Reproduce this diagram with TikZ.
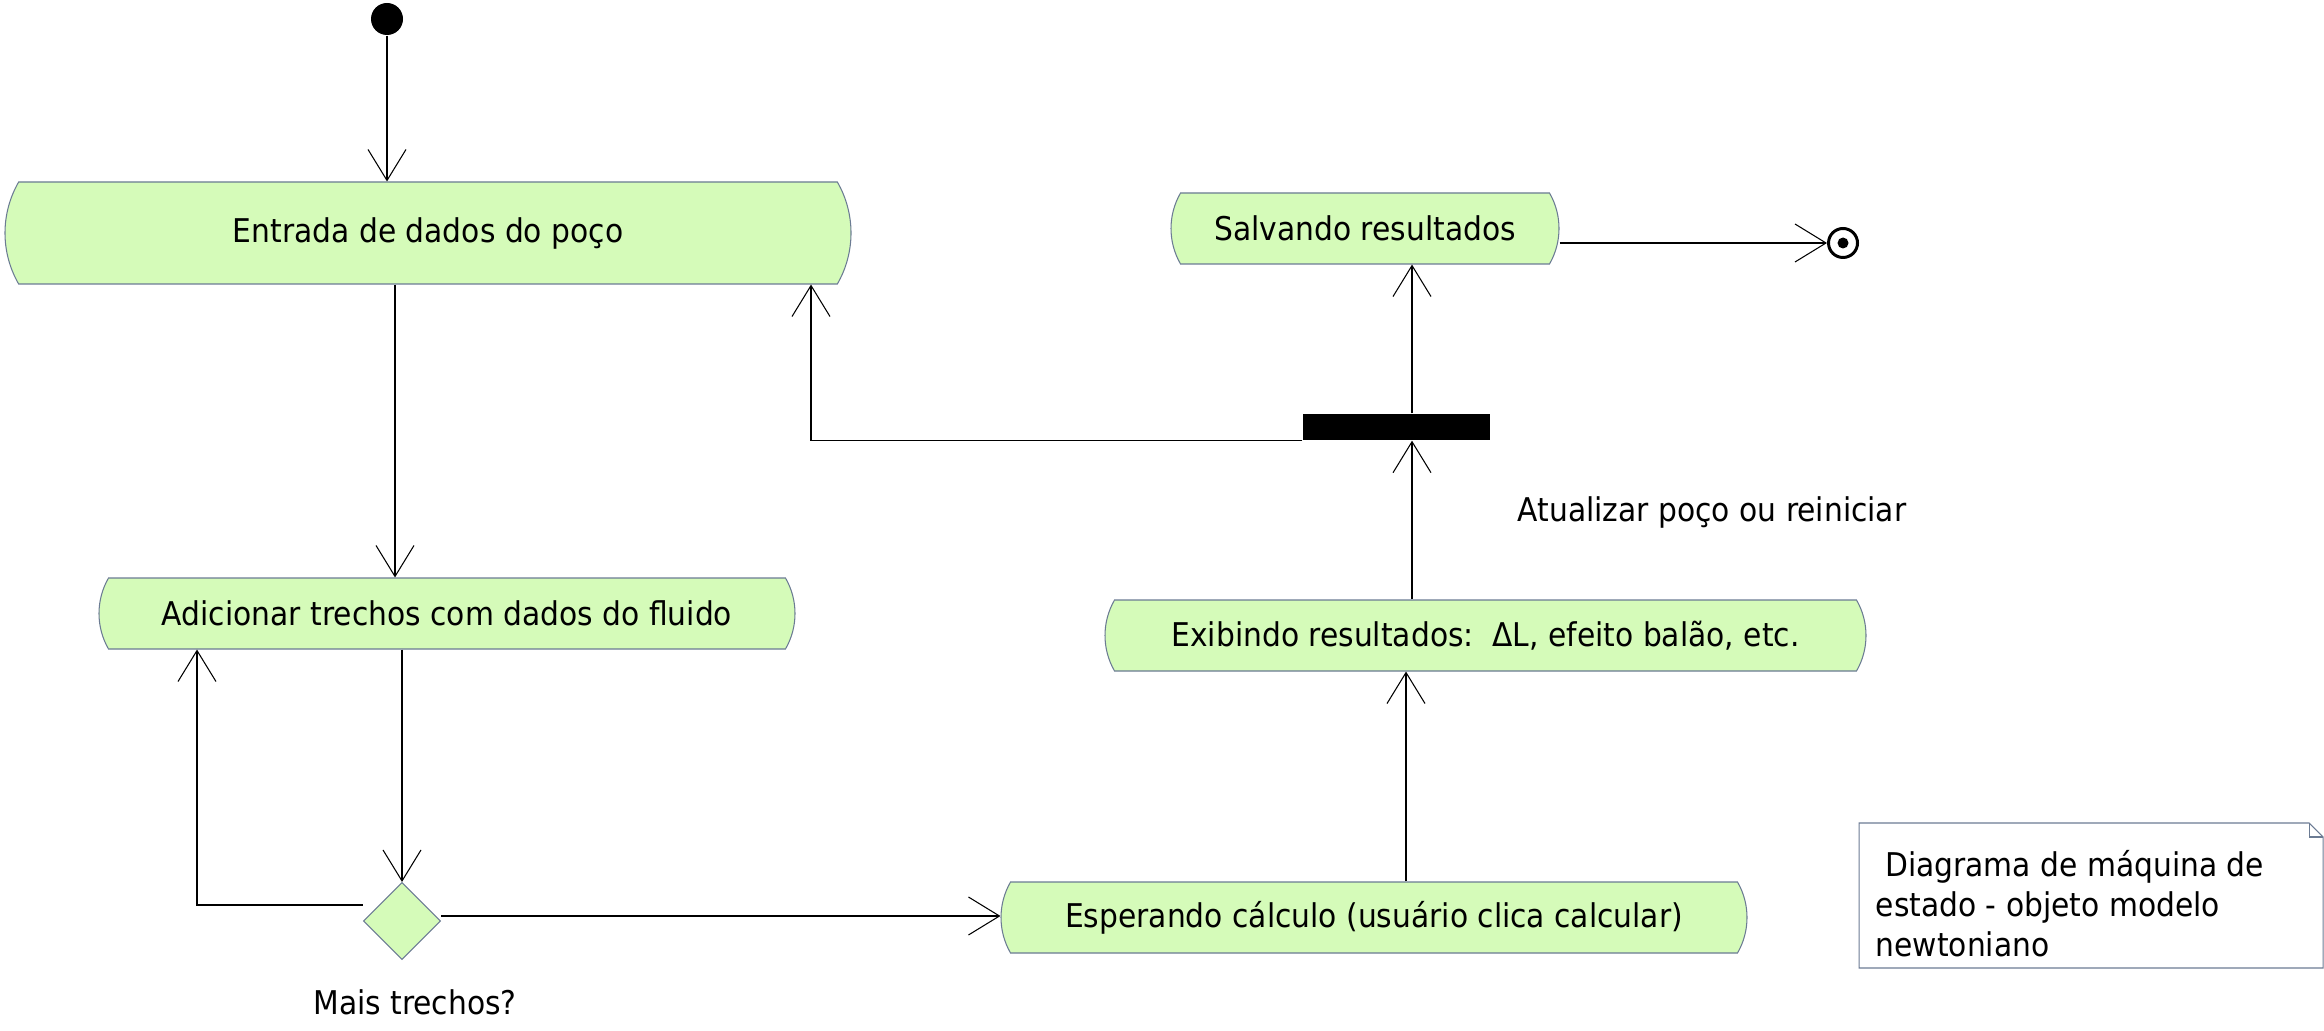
\documentclass[tikz,border=0pt]{standalone}
\usepackage{fontspec}
\setmainfont{DejaVu Sans}[FakeStretch=0.91]
\usepackage{tikz}
\usetikzlibrary{shapes.geometric}
\usetikzlibrary{shapes.misc}
\usetikzlibrary{arrows.meta}

\definecolor{verdeestado}{HTML}{D5FBB9}
\definecolor{bordaestado}{HTML}{6B7B93}

\tikzset{
   estado/.style={
      rounded rectangle,
      rounded rectangle arc length=60,
      draw=bordaestado,
      fill=verdeestado,
      line width=0.3pt,
      inner sep=0pt,
      minimum height=0.71cm
   },
   decisao/.style={diamond, aspect=1, draw=bordaestado, fill=verdeestado,
      line width=0.3pt, inner sep=0pt, minimum width=0.77cm, minimum height=0.77cm},
   barra/.style={rectangle, fill=black, inner sep=0pt,
      minimum width=1.87cm, minimum height=0.26cm},
   inicial/.style={circle, fill=black, inner sep=0pt, minimum size=0.32cm},
   final/.style={circle, draw=black, line width=0.85pt, inner sep=0pt, minimum size=0.29cm},
   rotulo/.style={inner sep=0pt},
   seta/.style={-{Straight Barb[length=3.1mm,width=3.8mm]}, line width=0.3pt}
}

\begin{document}
\begin{tikzpicture}[x=1cm,y=-1cm,font=\fontsize{9.3}{11.4}\selectfont]
   \useasboundingbox (0,0) rectangle (23.24,10.31);

   % estados
   \node[inicial] (inicio) at (3.87,0.19) {};
   \node[estado, minimum width=8.46cm, minimum height=1.02cm] (entrada) at (4.28,2.33) {Entrada de dados do poço};
   \node[estado, minimum width=6.96cm] (adicionar) at (4.47,6.135) {Adicionar trechos com dados do fluido};
   \node[decisao] (decisao) at (4.02,9.21) {};
   \node[rotulo, anchor=base] (maistrechos) at (4.15,10.14) {Mais trechos?};
   \node[estado, minimum width=7.46cm] (esperando) at (13.74,9.175) {Esperando cálculo (usuário clica calcular)};
   \node[estado, minimum width=7.61cm] (exibindo) at (14.855,6.355) {Exibindo resultados:\ \ ΔL, efeito balão, etc.};
   \node[barra] (barra) at (13.965,4.27) {};
   \node[rotulo, anchor=base] (atualizar) at (17.12,5.22) {Atualizar poço ou reiniciar};
   \node[estado, minimum width=3.88cm] (salvando) at (13.65,2.285) {Salvando resultados};
   \node[final] (fim) at (18.43,2.43) {};
   \fill (fim) circle[radius=0.055cm];

   % nota
   \node[rotulo, anchor=north west, align=left] (nota) at (18.75,8.50) {\ Diagrama de máquina de\\estado - objeto modelo\\newtoniano};
   \draw[bordaestado, line width=0.3pt] (18.59,8.23) -- (23.09,8.23) -- (23.23,8.37) -- (23.23,9.68) -- (18.59,9.68) -- cycle;
   \draw[bordaestado, line width=0.3pt] (23.09,8.23) -- (23.09,8.37) -- (23.23,8.37);

   % faixas das transicoes
   \coordinate (xa) at (3.95,0);
   \coordinate (xr) at (8.11,0);
   \coordinate (xb) at (14.12,0);
   \coordinate (xe) at (14.06,0);
   \coordinate (xl) at (1.97,0);

   % transicoes
   \draw[seta] (inicio.south) -- (inicio |- entrada.north);
   \draw[seta] (xa |- entrada.south) -- (xa |- adicionar.north);
   \draw[seta] (decisao.north |- adicionar.south) -- (decisao.north);
   \draw[seta] ([yshift=0.16cm]decisao.west) -| (xl |- adicionar.south);
   \draw[seta] ([yshift=0.05cm]decisao.east) -- ([yshift=0.05cm]decisao.east -| esperando.west);
   \draw[seta] (xe |- esperando.north) -- (xe |- exibindo.south);
   \draw[seta] (xb |- exibindo.north) -- (xb |- barra.south);
   \draw[seta] (xb |- barra.north) -- (xb |- salvando.south);
   \draw[seta] (barra.south west) -| (xr |- entrada.south);
   \draw[seta] (salvando.east |- fim.west) -- (fim.west);
\end{tikzpicture}
\end{document}
